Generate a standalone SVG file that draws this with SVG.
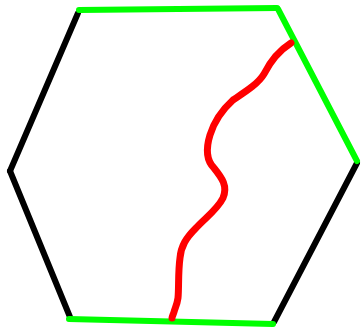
<svg xmlns="http://www.w3.org/2000/svg" width="361" height="330" viewBox="0 0 361 330">
<style>
.e{fill:none;stroke-width:6;stroke-linecap:round;stroke-linejoin:round}
.k{stroke:#000}
.g{stroke:#00ff00}
.r{stroke:#ff0000;stroke-width:7}
</style>
<rect width="361" height="330" fill="#fff"/>
<g id="edges">
<line class="e k" x1="78" y1="13" x2="10" y2="171"/>
<line class="e k" x1="10" y1="171" x2="70" y2="317"/>
<line class="e k" x1="357" y1="163" x2="274" y2="322"/>
<line class="e g" x1="79" y1="10" x2="277" y2="8"/>
<line class="e g" x1="278" y1="9" x2="357" y2="161"/>
<line class="e g" x1="69" y1="319" x2="273" y2="324"/>
</g>
<g id="curve">
<path class="e r" d="M291,43 C280,50 270,62 264,74 C258,84 245,92 233,100 C222,110 214,122 210,135 C206,148 206,160 214,168 C222,178 228,186 223,198 C217,210 205,218 196,228 C186,238 181,246 180,258 C178,272 179,288 178,298 C177,305 175,308 174,312 C173,315 172,317 172,318"/>
</g>
</svg>
